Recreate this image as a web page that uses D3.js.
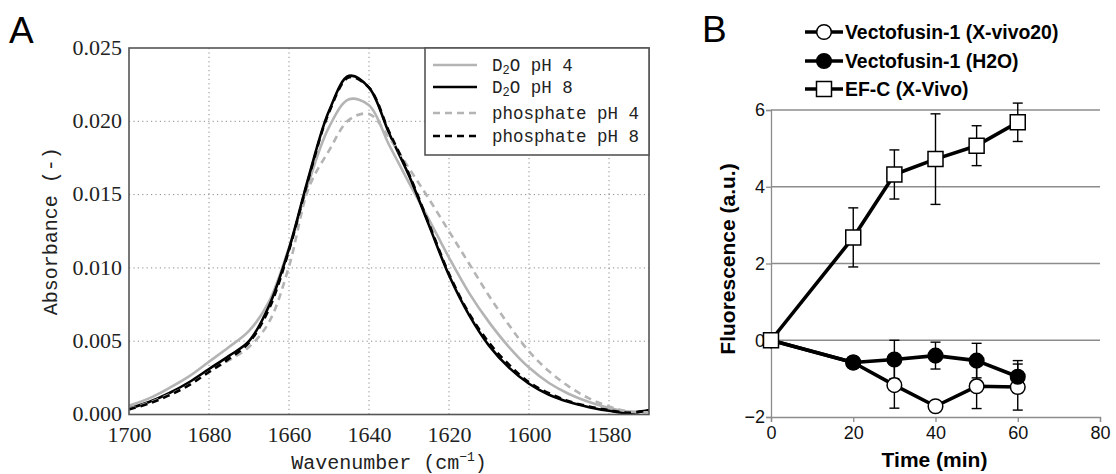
<!DOCTYPE html>
<html lang="en">
<head>
    <meta charset="UTF-8">
    <title>FTIR spectra and fluorescence</title>
    <script src="https://cdn.jsdelivr.net/npm/d3@7"></script>
    <style>
        body {
            margin: 0;
            background: white;
        }
    </style>
</head>
<body>
<script>
    const width  = 1116;
    const height = 474;

    const MONO  = "'Liberation Mono', 'DejaVu Sans Mono', monospace";
    const SERIF = "'Liberation Serif', 'DejaVu Serif', serif";
    const SANS  = "'Liberation Sans', Arial, sans-serif";

    // ---- Panel A: amide I band (absorbance vs wavenumber) ----
    const wavenumber = [1700, 1695, 1690, 1685, 1680, 1675, 1670, 1665, 1660, 1655,
                        1650, 1645, 1640, 1635, 1630, 1625, 1620, 1615, 1610, 1605,
                        1600, 1595, 1590, 1585, 1580, 1575, 1570];

    const d2oPh4 = [0.0006, 0.0011, 0.0018, 0.0026, 0.0036, 0.0046, 0.0057, 0.0077, 0.0114, 0.0159,
                    0.0196, 0.0215, 0.0211, 0.0184, 0.0158, 0.0133, 0.0107, 0.0083, 0.0063, 0.0046,
                    0.0032, 0.00215, 0.0014, 0.00085, 0.00045, 0.0002, 0.0002];

    const d2oPh8 = [0.0004, 0.00085, 0.00145, 0.0022, 0.0031, 0.0040, 0.0050, 0.0074, 0.0113, 0.0163,
                    0.0207, 0.0231, 0.0223, 0.0192, 0.0163, 0.0129, 0.0095, 0.0068, 0.0047, 0.0032,
                    0.0021, 0.00135, 0.00085, 0.0005, 0.00025, 0.0001, 0.0003];

    const phosPh4 = [0.0004, 0.0008, 0.00135, 0.0020, 0.0029, 0.0037, 0.0046, 0.0063, 0.0101, 0.0155,
                     0.0180, 0.0201, 0.0205, 0.0189, 0.0168, 0.0147, 0.0125, 0.0103, 0.0081, 0.0061,
                     0.0043, 0.00295, 0.0019, 0.0011, 0.00055, 0.0002, 0.00015];

    const phosPh8 = [0.00035, 0.00075, 0.0013, 0.0020, 0.0029, 0.0038, 0.0049, 0.0072, 0.0112, 0.0162,
                     0.0206, 0.0230, 0.0223, 0.0193, 0.0164, 0.0130, 0.0096, 0.0069, 0.0049, 0.0034,
                     0.0022, 0.00145, 0.0009, 0.00055, 0.0003, 0.00012, 0.0003];

    const wnTicks  = [1700, 1680, 1660, 1640, 1620, 1600, 1580];
    const absTicks = [0, 0.005, 0.010, 0.015, 0.020, 0.025];

    const seriesA = [
        {name: "D2O pH 4",       values: d2oPh4,  color: "#b4b4b4", dash: null},
        {name: "D2O pH 8",       values: d2oPh8,  color: "#000000", dash: null},
        {name: "phosphate pH 4", values: phosPh4, color: "#b4b4b4", dash: "7,5"},
        {name: "phosphate pH 8", values: phosPh8, color: "#000000", dash: "7,5"}
    ];

    // ---- Panel B: fluorescence vs time ----
    const timeMin = [0, 20, 30, 40, 50, 60];

    const vfXvivo    = [0, -0.58, -1.17, -1.72, -1.20, -1.22];
    const vfXvivoErr = [0, 0, 0.60, 0.10, 0.58, 0.60];

    const vfH2O      = [0, -0.58, -0.50, -0.40, -0.53, -0.95];
    const vfH2OErr   = [0, 0, 0.50, 0.35, 0.45, 0.42];

    const efc        = [0, 2.68, 4.32, 4.72, 5.07, 5.68];
    const efcErr     = [0, 0.77, 0.64, 1.18, 0.52, 0.50];

    const timeTicks = [0, 20, 40, 60, 80];
    const fluoTicks = [-2, 0, 2, 4, 6];

    const seriesB = [
        {name: "Vectofusin-1 (X-vivo20)", values: vfXvivo, err: vfXvivoErr, symbol: "circle", fill: "white"},
        {name: "Vectofusin-1 (H2O)",      values: vfH2O,   err: vfH2OErr,   symbol: "circle", fill: "black"},
        {name: "EF-C (X-Vivo)",           values: efc,     err: efcErr,     symbol: "square", fill: "white"}
    ];

    const svg = d3.select("body").append("svg")
                  .attr("width", width)
                  .attr("height", height);

    drawPanelA();
    drawPanelB();

    /**
     * Spectra panel, matplotlib-like with dotted grid and boxed legend
     */
    function drawPanelA() {
        const left = 129, right = 649, top = 48, bottom = 414.5;

        const x = d3.scaleLinear().domain([1700, 1570]).range([left, right]);
        const y = d3.scaleLinear().domain([0, 0.025]).range([bottom, top]);

        const g = svg.append("g");

        svg.append("text")
           .attr("font-family", SANS)
           .attr("x", 9).attr("y", 43)
           .attr("font-size", 37)
           .text("A");

        // dotted grid
        g.append("g")
         .selectAll("line")
         .data(wnTicks.slice(1))
         .join("line")
           .attr("x1", d => x(d)).attr("x2", d => x(d))
           .attr("y1", top).attr("y2", bottom)
           .attr("stroke", "#8a8a8a")
           .attr("stroke-width", 1)
           .attr("stroke-dasharray", "1.2,3.2");

        g.append("g")
         .selectAll("line")
         .data(absTicks.slice(1, -1))
         .join("line")
           .attr("x1", left).attr("x2", right)
           .attr("y1", d => y(d)).attr("y2", d => y(d))
           .attr("stroke", "#8a8a8a")
           .attr("stroke-width", 1)
           .attr("stroke-dasharray", "1.2,3.2");

        // curves
        svg.append("clipPath").attr("id", "clipA")
           .append("rect")
             .attr("x", left).attr("y", top)
             .attr("width", right - left).attr("height", bottom - top);

        const line = d3.line()
                       .x((d, i) => x(wavenumber[i]))
                       .y(d => y(d))
                       .curve(d3.curveCatmullRom);

        g.append("g")
         .attr("clip-path", "url(#clipA)")
         .selectAll("path")
         .data(seriesA)
         .join("path")
           .attr("d", d => line(d.values))
           .attr("fill", "none")
           .attr("stroke", d => d.color)
           .attr("stroke-width", 2.6)
           .attr("stroke-dasharray", d => d.dash);

        // frame
        g.append("rect")
         .attr("x", left).attr("y", top)
         .attr("width", right - left).attr("height", bottom - top)
         .attr("fill", "none")
         .attr("stroke", "#555")
         .attr("stroke-width", 1.6);

        // axes (labels only)
        const xAxis = g.append("g")
                       .attr("transform", "translate(0," + bottom + ")")
                       .call(d3.axisBottom(x).tickValues(wnTicks).tickFormat(d3.format("d")).tickSize(0).tickPadding(10));
        xAxis.attr("font-family", SERIF).attr("font-size", 22);
        xAxis.select(".domain").remove();
        xAxis.selectAll("text")
             .attr("fill", "#222")
             .attr("dy", "0.8em");

        const yAxis = g.append("g")
                       .attr("transform", "translate(" + left + ",0)")
                       .call(d3.axisLeft(y).tickValues(absTicks).tickFormat(d3.format(".3f")).tickSize(0).tickPadding(7));
        yAxis.attr("font-family", SERIF).attr("font-size", 22);
        yAxis.select(".domain").remove();
        yAxis.selectAll("text")
             .attr("fill", "#222")
             .attr("dy", "0.28em");

        // axis titles
        const xt = g.append("text")
                    .attr("font-family", MONO)
                    .attr("x", (left + right) / 2)
                    .attr("y", 469)
                    .attr("text-anchor", "middle")
                    .attr("font-size", 20)
                    .attr("fill", "#222");
        xt.append("tspan").text("Wavenumber (cm");
        xt.append("tspan").attr("dy", -8).attr("font-size", 13).text("\u22121");
        xt.append("tspan").attr("dy", 8).text(")");

        g.append("text")
         .attr("font-family", MONO)
         .attr("transform", "translate(57," + (top + bottom) / 2 + ") rotate(-90)")
         .attr("text-anchor", "middle")
         .attr("font-size", 20)
         .attr("fill", "#222")
         .text("Absorbance (-)");

        // legend
        const lg = g.append("g");
        lg.append("rect")
          .attr("x", 425).attr("y", top)
          .attr("width", right - 425).attr("height", 107)
          .attr("fill", "white")
          .attr("stroke", "#555")
          .attr("stroke-width", 1.6);

        const rowY = [65, 87, 113, 136];
        const rows = lg.selectAll("g.row")
                       .data(seriesA)
                       .join("g")
                         .attr("class", "row")
                         .attr("transform", (d, i) => "translate(0," + rowY[i] + ")");

        rows.append("line")
            .attr("x1", 433).attr("x2", 477)
            .attr("stroke", d => d.color)
            .attr("stroke-width", 2.6)
            .attr("stroke-dasharray", d => d.dash);

        const lt = rows.append("text")
                       .attr("font-family", MONO)
                       .attr("x", 492)
                       .attr("dy", "0.35em")
                       .attr("font-size", 17.5)
                       .attr("fill", "#222");

        lt.each(function(d) {
            const t = d3.select(this);
            if (d.name.startsWith("D2O")) {
                t.append("tspan").text("D");
                t.append("tspan").attr("font-size", 12).attr("dy", 3).text("2");
                t.append("tspan").attr("dy", -3).text("O" + d.name.slice(3));
            } else {
                t.text(d.name);
            }
        });
    }

    /**
     * Time course panel, Excel-like with error bars
     */
    function drawPanelB() {
        const left = 771, right = 1100, top = 110, bottom = 417;

        const x = d3.scaleLinear().domain([0, 80]).range([left, right]);
        const y = d3.scaleLinear().domain([-2, 6]).range([bottom, top]);

        const g = svg.append("g").attr("font-family", SANS);

        svg.append("text")
           .attr("font-family", SANS)
           .attr("x", 702).attr("y", 42)
           .attr("font-size", 37)
           .text("B");

        // horizontal grid
        g.append("g")
         .selectAll("line")
         .data(fluoTicks.slice(1))
         .join("line")
           .attr("x1", left).attr("x2", right)
           .attr("y1", d => y(d)).attr("y2", d => y(d))
           .attr("stroke", "#8c8c8c")
           .attr("stroke-width", 1.3);

        const xAxis = g.append("g")
                       .attr("transform", "translate(0," + bottom + ")")
                       .call(d3.axisBottom(x).tickValues(timeTicks).tickSize(5).tickPadding(4));
        xAxis.attr("font-family", SANS).attr("font-size", 18);
        xAxis.selectAll("line, path").attr("stroke", "#8c8c8c").attr("stroke-width", 1.3);
        xAxis.selectAll("text").attr("fill", "#111");

        const yAxis = g.append("g")
                       .attr("transform", "translate(" + left + ",0)")
                       .call(d3.axisLeft(y).tickValues(fluoTicks).tickSize(5).tickPadding(1));
        yAxis.attr("font-family", SANS).attr("font-size", 18);
        yAxis.selectAll("line, path").attr("stroke", "#8c8c8c").attr("stroke-width", 1.3);
        yAxis.selectAll("text").attr("fill", "#111");

        // axis titles
        g.append("text")
         .attr("x", (left + right) / 2 - 1)
         .attr("y", 467)
         .attr("text-anchor", "middle")
         .attr("font-size", 21)
         .attr("font-weight", "bold")
         .text("Time (min)");

        g.append("text")
         .attr("transform", "translate(735," + 259 + ") rotate(-90)")
         .attr("text-anchor", "middle")
         .attr("font-size", 21)
         .attr("font-weight", "bold")
         .text("Fluorescence (a.u.)");

        const line = d3.line()
                       .x((d, i) => x(timeMin[i]))
                       .y(d => y(d));

        const circle = d3.symbol().type(d3.symbolCircle).size(Math.PI * 7.3 * 7.3);
        const square = d3.symbol().type(d3.symbolSquare).size(15 * 15);

        // error bars first, then lines, then markers
        seriesB.forEach(s => {
            const eb = g.append("g");
            const pts = s.values.map((v, i) => ({t: timeMin[i], v: v, e: s.err[i]})).filter(d => d.e > 0);
            eb.selectAll("line.v")
              .data(pts)
              .join("line")
                .attr("class", "v")
                .attr("x1", d => x(d.t)).attr("x2", d => x(d.t))
                .attr("y1", d => y(d.v - d.e)).attr("y2", d => y(d.v + d.e))
                .attr("stroke", "black").attr("stroke-width", 1.4);
            eb.selectAll("line.cap")
              .data(pts.flatMap(d => [d.v - d.e, d.v + d.e].map(c => ({t: d.t, c: c}))))
              .join("line")
                .attr("class", "cap")
                .attr("x1", d => x(d.t) - 5).attr("x2", d => x(d.t) + 5)
                .attr("y1", d => y(d.c)).attr("y2", d => y(d.c))
                .attr("stroke", "black").attr("stroke-width", 1.4);
        });

        seriesB.forEach(s => {
            g.append("path")
             .attr("d", line(s.values))
             .attr("fill", "none")
             .attr("stroke", "black")
             .attr("stroke-width", 3.6)
             .attr("stroke-linejoin", "round");
        });

        seriesB.forEach(s => {
            g.append("g")
             .selectAll("path")
             .data(s.values)
             .join("path")
               .attr("d", s.symbol === "square" ? square : circle)
               .attr("transform", (d, i) => "translate(" + x(timeMin[i]) + "," + y(d) + ")")
               .attr("fill", s.fill)
               .attr("stroke", "black")
               .attr("stroke-width", 1.5);
        });

        // legend
        const rowY = [32, 61, 89];
        const rows = g.selectAll("g.leg")
                      .data(seriesB)
                      .join("g")
                        .attr("class", "leg")
                        .attr("transform", (d, i) => "translate(0," + rowY[i] + ")");

        rows.append("line")
            .attr("x1", 805).attr("x2", 843)
            .attr("stroke", "black")
            .attr("stroke-width", 3.6);

        rows.append("path")
            .attr("d", d => d.symbol === "square" ? square() : circle())
            .attr("transform", "translate(824,0)")
            .attr("fill", d => d.fill)
            .attr("stroke", "black")
            .attr("stroke-width", 1.5);

        rows.append("text")
            .attr("x", 845)
            .attr("dy", "0.36em")
            .attr("font-size", 19.4)
            .attr("font-weight", "bold")
            .text(d => d.name);
    }
</script>
</body>
</html>
